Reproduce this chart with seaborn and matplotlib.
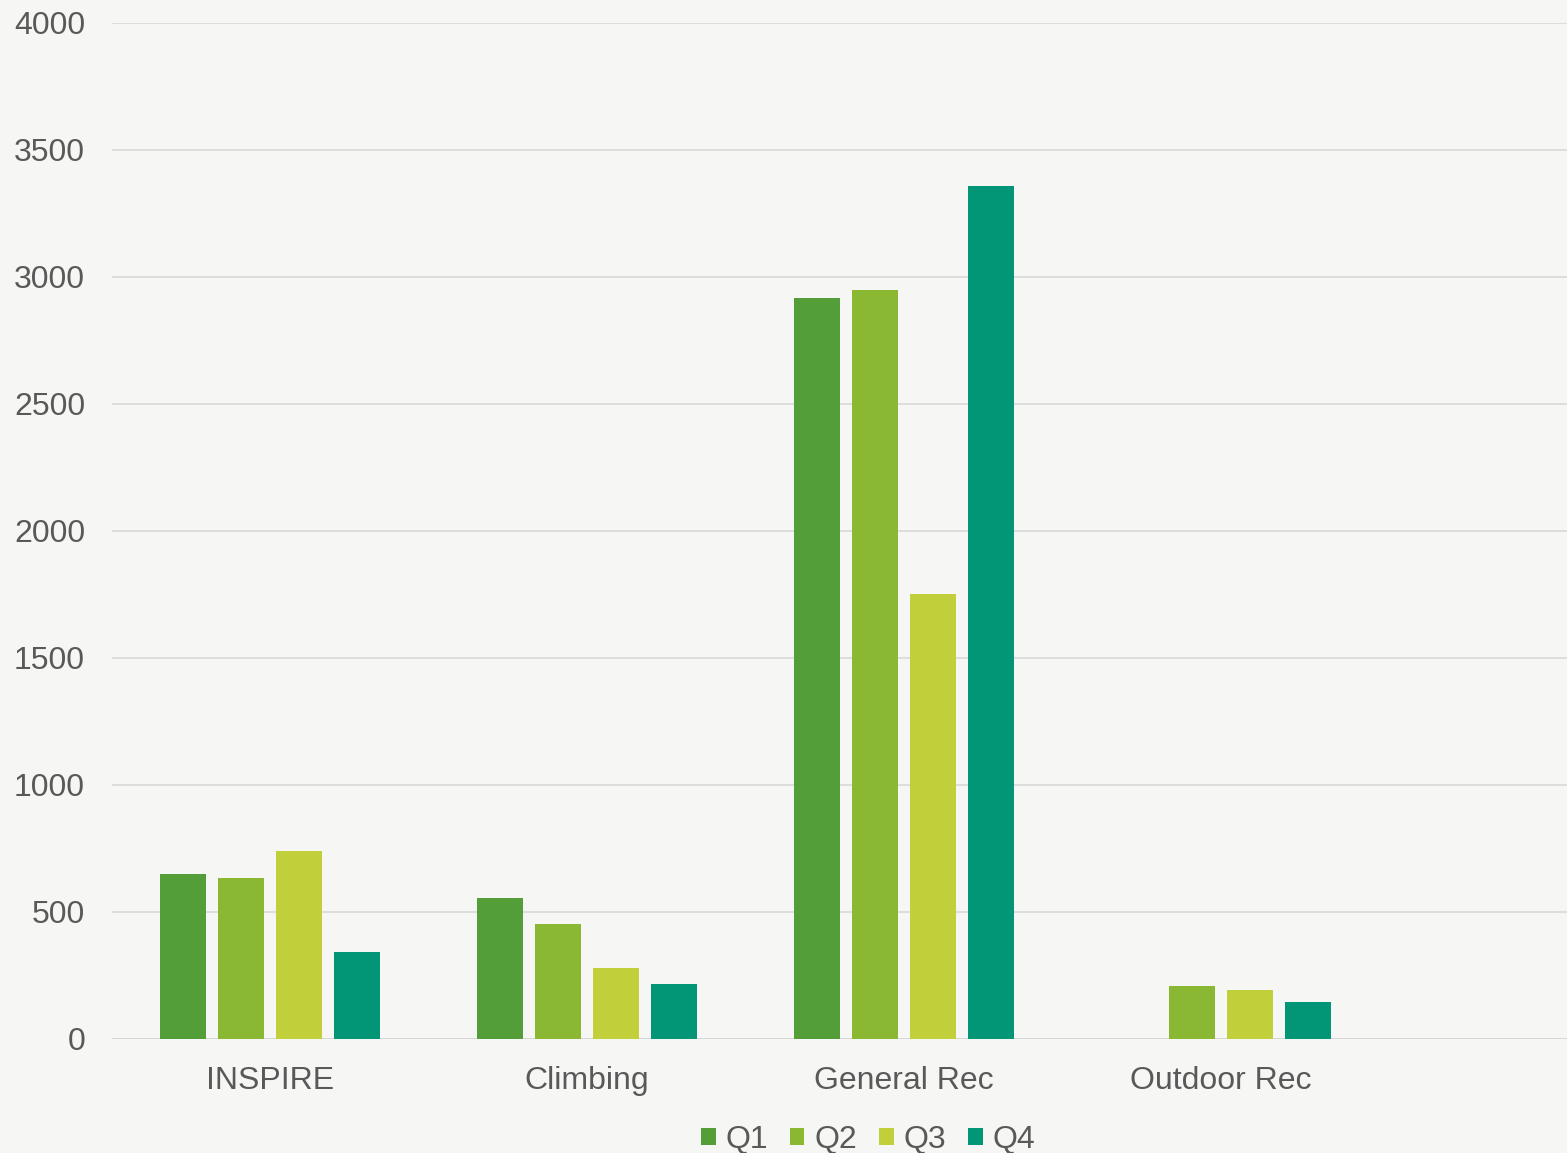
import numpy as np
import pandas as pd
import matplotlib
matplotlib.use("Agg")
import matplotlib.pyplot as plt
import seaborn as sns
from matplotlib.patches import Patch

categories = ["INSPIRE", "Climbing", "General Rec", "Outdoor Rec"]
quarters = ["Q1", "Q2", "Q3", "Q4"]
q1 = [648, 553, 2915, 0]
q2 = [632, 451, 2947, 207]
q3 = [740, 278, 1750, 191]
q4 = [341, 215, 3356, 144]
colors = ["#549E39", "#8AB833", "#C0CF3A", "#029676"]
yticks = [0, 500, 1000, 1500, 2000, 2500, 3000, 3500, 4000]

rows = []
for qname, vals in zip(quarters, [q1, q2, q3, q4]):
    for c, v in zip(categories, vals):
        rows.append({"Category": c, "Quarter": qname, "Value": v})
df = pd.DataFrame(rows)

sns.set_theme(style="white")
plt.rcParams["font.family"] = ["Liberation Sans", "DejaVu Sans"]

bg = "#f6f6f5"
fig = plt.figure(figsize=(15.67, 11.53), dpi=100, facecolor=bg)
ax = fig.add_axes([111.5 / 1567, (1153 - 1038.5) / 1153, 1 - 111.5 / 1567, 1016 / 1153])
ax.set_facecolor(bg)

sns.barplot(data=df, x="Category", y="Value", hue="Quarter", order=categories,
            hue_order=quarters, palette=colors, width=0.732, gap=0.22,
            saturation=1, legend=False, ax=ax, zorder=3, linewidth=0, edgecolor="none")

ax.set_ylim(0, 4000)
ax.set_xlim(-0.5, -0.5 + (1567 - 111.5) / 317)
ax.set_yticks(yticks)
ax.set_yticklabels([str(t) for t in yticks])
ax.yaxis.grid(True, color="#d6d6d6", linewidth=1.1, zorder=0)
ax.set_axisbelow(True)
for s in ax.spines.values():
    s.set_visible(False)
ax.axhline(0, color="#d6d6d6", linewidth=1.3, zorder=2)
ax.set_xlabel("")
ax.set_ylabel("")
ax.tick_params(axis="y", length=0, pad=19, labelsize=23, labelcolor="#595959")
ax.tick_params(axis="x", length=0, pad=20, labelsize=23, labelcolor="#595959")

handles = [Patch(facecolor=c, edgecolor="none", label=q) for c, q in zip(colors, quarters)]
fig.legend(handles=handles, loc="center", bbox_to_anchor=(868 / 1567, (1153 - 1140) / 1153),
           ncol=4, frameon=False, fontsize=23, handlelength=0.45, handleheight=0.45,
           handletextpad=0.3, columnspacing=0.7, labelcolor="#595959")

fig.savefig("out.png", dpi=100, facecolor=bg)
